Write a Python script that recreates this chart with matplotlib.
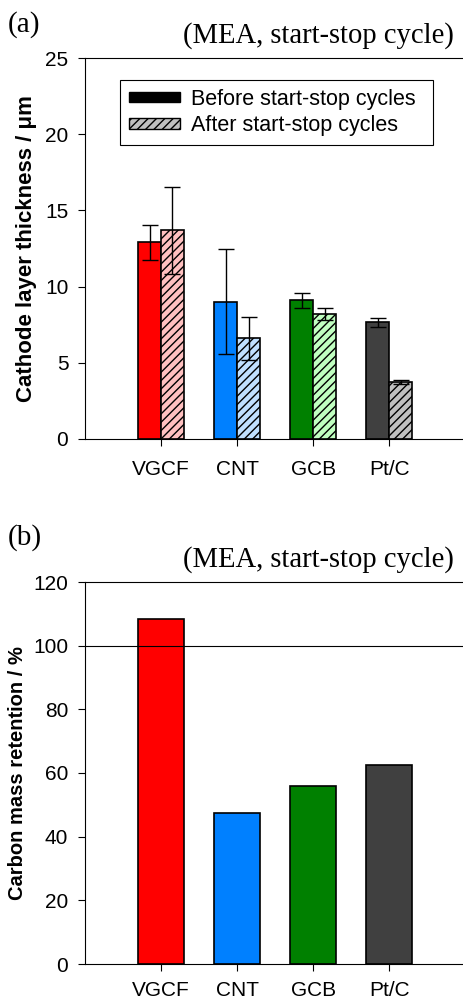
import matplotlib.pyplot as plt
import numpy as np
from matplotlib.patches import Patch

# data
cats = ['VGCF', 'CNT', 'GCB', 'Pt/C']
before = [12.9, 9.0, 9.1, 7.65]
before_err = [1.15, 3.45, 0.5, 0.3]
after = [13.7, 6.6, 8.2, 3.75]
after_err = [2.85, 1.4, 0.38, 0.12]
retention = [108.3, 47.5, 56.0, 62.5]

col_before = ['#ff0000', '#0080ff', '#008000', '#404040']
col_after = ['#ffc0c0', '#c0e0ff', '#c0ffc0', '#c0c0c0']

plt.rcParams['font.family'] = ['Liberation Sans', 'DejaVu Sans']
plt.rcParams['hatch.linewidth'] = 1.0

fig = plt.figure(figsize=(4.63, 10.01), dpi=100)
W, H = 463, 1001
x = np.arange(len(cats))
bw = 0.3
ekw = dict(ecolor='black', elinewidth=1, capsize=6, capthick=1)

# ---- (a)
ax1 = fig.add_axes([85 / W, 1 - 439 / H, (W - 85) / W, (439 - 58) / H])
ax1.bar(x - bw / 2, before, bw, color=col_before, edgecolor='black', linewidth=1.2,
        yerr=before_err, error_kw=ekw)
ax1.bar(x + bw / 2, after, bw, color=col_after, edgecolor='black', linewidth=1.2, hatch='////',
        yerr=after_err, error_kw=ekw)
ax1.set_xlim(-1, 3.97)
ax1.set_ylim(0, 25)
ax1.set_yticks([0, 5, 10, 15, 20, 25])
ax1.set_xticks(x)
ax1.set_xticklabels(cats)
ax1.set_ylabel('Cathode layer thickness / μm', fontsize=16, fontweight='bold')
ax1.yaxis.set_label_coords(-0.127, 0.5)
h1 = Patch(facecolor='black', edgecolor='black')
h2 = Patch(facecolor='#c0c0c0', edgecolor='black', hatch='////')
leg = ax1.legend([h1, h2], ['Before start-stop cycles', 'After start-stop cycles'],
                 loc='upper left', bbox_to_anchor=(0.0926, 0.765, 0.828, 0.177), mode='expand',
                 fontsize=15.5, fancybox=False,
                 edgecolor='black', framealpha=1, handlelength=2.4, handleheight=0.37,
                 borderpad=0.4, labelspacing=0.25, handletextpad=0.5, borderaxespad=0)
leg.get_frame().set_linewidth(0.8)
fig.text(8 / W, 1 - 32 / H, '(a)', fontsize=21, family='Liberation Serif', va='baseline')
fig.text(454 / W, 1 - 43 / H, '(MEA, start-stop cycle)', fontsize=20.6, family='Liberation Serif',
         ha='right', va='baseline')

# ---- (b)
ax2 = fig.add_axes([85 / W, 1 - 964 / H, (W - 85) / W, (964 - 582) / H])
ax2.bar(x, retention, 0.6, color=col_before, edgecolor='black', linewidth=1.2)
ax2.axhline(100, color='black', linewidth=0.8)
ax2.set_xlim(-1, 3.97)
ax2.set_ylim(0, 120)
ax2.set_yticks(range(0, 121, 20))
ax2.set_xticks(x)
ax2.set_xticklabels(cats)
ax2.set_ylabel('Carbon mass retention / %', fontsize=14.5, fontweight='bold')
ax2.yaxis.set_label_coords(-0.153, 0.5)
fig.text(8 / W, 1 - 545 / H, '(b)', fontsize=21, family='Liberation Serif', va='baseline')
fig.text(454 / W, 1 - 567 / H, '(MEA, start-stop cycle)', fontsize=20.6, family='Liberation Serif',
         ha='right', va='baseline')

for ax in (ax1, ax2):
    ax.spines['right'].set_visible(False)
    for s in ('top', 'left', 'bottom'):
        ax.spines[s].set_linewidth(0.8)
    ax.tick_params(axis='both', direction='out', length=5, width=0.8, labelsize=15)
    ax.tick_params(axis='y', pad=7)
ax1.tick_params(axis='x', pad=10)
ax2.tick_params(axis='x', pad=7)

fig.savefig('out.png', dpi=100)
